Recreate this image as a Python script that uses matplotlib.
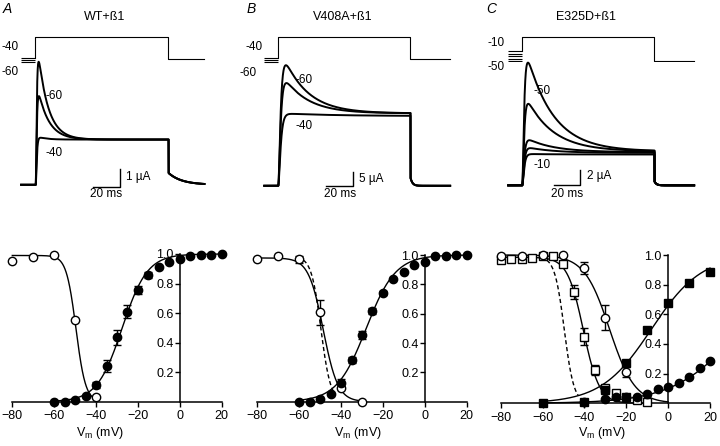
import numpy as np
import matplotlib
matplotlib.use("Agg")
import matplotlib.pyplot as plt

plt.rcParams["font.family"] = ["Liberation Sans", "DejaVu Sans"]

W, H = 720, 446

# ---- voltage protocols (mV) ----
PRE_AB = [-60, -50, -40]
PRE_C = [-50, -40, -30, -20, -10]
TEST_V = 50
RETURN_V = [-45, -45, -50]
STEP_MS = 100

# ---- current traces, one entry per prepulse (uA, ms) ----
A_PEAK = [6.8, 4.9, 2.6]
A_SS = [2.5, 2.5, 2.5]
A_TAU = [7.5, 8.0, 6.0]
A_TAIL = [0.65, 0.65, 0.65]

B_PEAK = [44.6, 38.0, 26.6]
B_SS = [26.8, 26.8, 25.8]
B_TAU = [18.0, 18.0, 40.0]
B_TAIL = [3.0, 3.0, 3.0]

C_PEAK = [15.5, 10.3, 5.7, 4.7, 3.95]
C_SS = [4.3, 4.3, 4.2, 4.1, 3.9]
C_TAU = [20.0, 20.0, 20.0, 20.0, 20.0]
C_TAIL = [0.5, 0.5, 0.5, 0.5, 0.5]

# ---- steady-state curves (normalized) ----
V_ACT = [-60, -55, -50, -45, -40, -35, -30, -25, -20, -15, -10, -5, 0, 5, 10, 15, 20]
A_ACT = [0.0, 0.0, 0.01, 0.04, 0.11, 0.24, 0.435, 0.61, 0.756, 0.858, 0.914, 0.948, 0.966, 0.986, 0.993, 0.993, 0.998]
A_ACT_ERR = [0, 0, 0, 0, 0.02, 0.04, 0.05, 0.045, 0.03, 0.02, 0, 0, 0, 0, 0, 0, 0]
A_INACT_V = [-80, -70, -60, -50, -40]
A_INACT = [0.955, 0.98, 0.99, 0.555, 0.03]

B_ACT = [0.0, 0.0, 0.016, 0.05, 0.13, 0.284, 0.455, 0.62, 0.743, 0.834, 0.886, 0.932, 0.955, 0.99, 0.99, 1.0, 1.0]
B_ACT_ERR = [0, 0, 0, 0, 0.025, 0.02, 0.025, 0.02, 0.015, 0, 0, 0, 0, 0, 0, 0, 0]
B_INACT_V = [-80, -70, -60, -50, -40, -30]
B_INACT = [0.97, 0.99, 0.97, 0.61, 0.09, 0.0]
B_INACT_ERR = [0, 0, 0.025, 0.085, 0, 0]

C_CIRC_V = [-80, -70, -60, -50, -40, -30, -20]
C_CIRC = [0.99, 0.99, 1.0, 1.0, 0.91, 0.577, 0.213]
C_CIRC_ERR = [0, 0, 0, 0, 0.04, 0.085, 0.035]
C_SQ_V = [-80, -75, -70, -65, -60, -55, -50, -45, -40, -35, -30, -25, -20, -15, -10]
C_SQ = [0.965, 0.97, 0.975, 0.98, 0.99, 0.99, 0.94, 0.75, 0.45, 0.225, 0.10, 0.072, 0.04, 0.022, 0.011]
C_SQ_ERR = [0, 0, 0, 0, 0, 0, 0, 0.05, 0.06, 0.035, 0, 0, 0, 0, 0]
C_FSQ_V = [-60, -40, -30, -20, -10, 0, 10, 20]
C_FSQ = [0.0, 0.01, 0.09, 0.27, 0.494, 0.674, 0.81, 0.883]
C_FCIRC_V = [-40, -30, -25, -20, -15, -10, -5, 0, 5, 10, 15, 20]
C_FCIRC = [0.01, 0.03, 0.04, 0.04, 0.045, 0.063, 0.096, 0.11, 0.14, 0.18, 0.24, 0.285]

# Boltzmann fit parameters: (V1/2, slope, max)
WT_ACT_FIT = (-27.5, 6.0, 1.0)
WT_INACT_FIT = (-49.6, 2.3, 0.99)
V408A_ACT_FIT = (-28.0, 7.0, 1.0)
V408A_INACT_FIT = (-48.5, 3.5, 0.98)
E325D_CIRC_FIT = (-28.0, 6.0, 1.0)
E325D_SQ_FIT = (-40.5, 3.8, 0.985)
E325D_FSQ_FIT = (-8.0, 12.0, 1.0)
E325D_FCIRC_FIT = (35.0, 16.0, 1.0)


def boltz_act(v, p):
    return p[2] / (1 + np.exp((p[0] - v) / p[1]))


def boltz_inact(v, p):
    return p[2] / (1 + np.exp((v - p[0]) / p[1]))


def current(t, peak, ss, tau_i, tau_a, tail, tau_tail):
    tt = np.clip(t, 0, None)
    act = (1 - np.exp(-tt / tau_a)) ** 2
    on = (t >= 0) & (t < STEP_MS)
    a = peak - ss
    if a > 0:
        for _ in range(8):
            m = (act * (ss + a * np.exp(-tt / tau_i)))[on].max()
            if m - ss <= 0:
                break
            a *= (peak - ss) / (m - ss)
    out = np.zeros_like(t)
    out[on] = (act * (ss + a * np.exp(-tt / tau_i)))[on]
    off = t >= STEP_MS
    out[off] = tail * np.exp(-(t[off] - STEP_MS) / tau_tail)
    return out


def add_axes_px(fig, xlim, ylim, xa, pxa, xb, pxb, ya, pya, yb, pyb):
    sx = (pxb - pxa) / (xb - xa)
    sy = (pyb - pya) / (yb - ya)
    left = pxa + (xlim[0] - xa) * sx
    right = pxa + (xlim[1] - xa) * sx
    bottom = pya + (ylim[0] - ya) * sy
    top = pya + (ylim[1] - ya) * sy
    return fig.add_axes([left / W, 1 - bottom / H, (right - left) / W, (bottom - top) / H])


def ftext(fig, x, y, s, **kw):
    kw.setdefault("fontsize", 8)
    kw.setdefault("va", "center")
    fig.text(x / W, 1 - y / H, s, **kw)


def draw_protocol(ax, pre, ret, t0, t1):
    ax.hlines(pre, t0, 0, color="black", lw=0.8)
    ax.plot([0, 0, STEP_MS, STEP_MS, t1], [max(pre), TEST_V, TEST_V, ret, ret],
            color="black", lw=0.8)
    ax.axis("off")


def draw_traces(ax, peaks, sss, taus, tails, tau_a, tau_tail, t0, t1):
    t = np.linspace(t0, t1, 3000)
    for pk, ss, ti, tl in zip(peaks, sss, taus, tails):
        ax.plot(t, current(t, pk, ss, ti, tau_a, tl, tau_tail), color="black", lw=1.4)
    ax.axis("off")


def scale_bar(ax, t_end, i0, dt, di):
    ax.plot([t_end - dt, t_end, t_end], [i0, i0, i0 + di], color="black", lw=1.0)


def setup_iv(ax):
    ax.set_xlim(-84, 24)
    ax.set_ylim(-0.03, 1.06)
    ax.spines["top"].set_visible(False)
    ax.spines["right"].set_visible(False)
    ax.spines["left"].set_position(("data", 0))
    ax.spines["left"].set_bounds(0, 1)
    ax.spines["bottom"].set_position(("data", 0))
    ax.spines["bottom"].set_bounds(-80, 20)
    for s in ("left", "bottom"):
        ax.spines[s].set_linewidth(1.1)
    ax.set_xticks(range(-80, 21, 20))
    ax.set_yticks([0.2, 0.4, 0.6, 0.8, 1.0])
    ax.set_yticklabels(["0.2", "0.4", "0.6", "0.8", "1.0"])
    ax.tick_params(direction="out", length=3.5, width=1.0, labelsize=9)
    ax.tick_params(axis="x", pad=2.5)
    ax.tick_params(axis="y", pad=1)
    ax.patch.set_visible(False)


def points(ax, v, y, err=None, marker="o", filled=True):
    v = np.asarray(v, float)
    y = np.asarray(y, float)
    if err is not None:
        err = np.asarray(err, float)
        nz = err > 0
        ax.errorbar(v[nz], y[nz], yerr=err[nz], fmt="none", ecolor="black",
                    elinewidth=1.0, capsize=3, capthick=1.0, zorder=3, clip_on=False)
    ax.plot(v, y, linestyle="none", marker=marker, ms=6,
            mfc="black" if filled else "white", mec="black", mew=1.0,
            zorder=4, clip_on=False)


def fit_line(ax, fn, p, v0, v1, **kw):
    v = np.linspace(v0, v1, 300)
    kw.setdefault("lw", 1.0)
    ax.plot(v, fn(v, p), color="black", zorder=2, **kw)


fig = plt.figure(figsize=(7.2, 4.46), dpi=100)

# ---------------- top row ----------------
# panel A
ax = add_axes_px(fig, (-12, 130), (-70, 60), 0, 29, 100, 171, 50, 38, -40, 57.3)
draw_protocol(ax, PRE_AB, RETURN_V[0], -10.6, 127)
ax = add_axes_px(fig, (-12, 130), (-0.6, 7.5), 0, 29, 100, 171, 0, 183, 1, 166)
draw_traces(ax, A_PEAK, A_SS, A_TAU, A_TAIL, 0.6, 10.0, -11, 127)
scale_bar(ax, 63.4, -0.12, 20, 1)

# panel B
ax = add_axes_px(fig, (-12, 132), (-70, 60), 0, 272, 100, 414, 50, 38, -40, 57.3)
draw_protocol(ax, PRE_AB, RETURN_V[1], -10.6, 130)
ax = add_axes_px(fig, (-12, 132), (-3, 48), 0, 272, 100, 414, 0, 184, 5, 171)
draw_traces(ax, B_PEAK, B_SS, B_TAU, B_TAIL, 1.4, 1.5, -10.6, 130)
scale_bar(ax, 56.3, 0, 20, 5)

# panel C
ax = add_axes_px(fig, (-12, 132), (-70, 60), 0, 516, 100, 658, 50, 37.7, -50, 58.3)
draw_protocol(ax, PRE_C, RETURN_V[2], -10.6, 130)
ax = add_axes_px(fig, (-12, 132), (-1, 17), 0, 516, 100, 658, 0, 184, 2, 169)
draw_traces(ax, C_PEAK, C_SS, C_TAU, C_TAIL, 1.1, 1.5, -10.6, 130)
scale_bar(ax, 43.7, 0, 20, 2)

# ---------------- bottom row ----------------
ax = add_axes_px(fig, (-84, 24), (-0.03, 1.06), -80, 12.3, 20, 221.7, 0, 401.7, 1, 254)
setup_iv(ax)
fit_line(ax, boltz_inact, WT_INACT_FIT, -80, -40)
fit_line(ax, boltz_act, WT_ACT_FIT, -60, 20)
points(ax, A_INACT_V, A_INACT, filled=False)
points(ax, V_ACT, A_ACT, A_ACT_ERR)

ax = add_axes_px(fig, (-84, 24), (-0.03, 1.06), -80, 257.3, 20, 466.7, 0, 401.7, 1, 255)
setup_iv(ax)
fit_line(ax, boltz_inact, WT_INACT_FIT, -58, -43, ls=(0, (3, 2)))
fit_line(ax, boltz_inact, V408A_INACT_FIT, -80, -30)
fit_line(ax, boltz_act, V408A_ACT_FIT, -60, 20)
points(ax, B_INACT_V, B_INACT, B_INACT_ERR, filled=False)
points(ax, V_ACT, B_ACT, B_ACT_ERR)

ax = add_axes_px(fig, (-84, 24), (-0.03, 1.06), -80, 500.7, 20, 710, 0, 403.3, 1, 255)
setup_iv(ax)
fit_line(ax, boltz_inact, WT_INACT_FIT, -58, -43, ls=(0, (3, 2)))
fit_line(ax, boltz_inact, E325D_CIRC_FIT, -80, 0)
fit_line(ax, boltz_inact, E325D_SQ_FIT, -80, -10)
fit_line(ax, boltz_act, E325D_FSQ_FIT, -60, 20)
fit_line(ax, boltz_act, E325D_FCIRC_FIT, -60, 20)
points(ax, C_SQ_V, C_SQ, C_SQ_ERR, marker="s", filled=False)
points(ax, C_CIRC_V, C_CIRC, C_CIRC_ERR, filled=False)
points(ax, C_FSQ_V, C_FSQ, marker="s")
points(ax, C_FCIRC_V, C_FCIRC)

# ---------------- text ----------------
for x, letter in [(7, "A"), (251, "B"), (491, "C")]:
    ftext(fig, x, 9, letter, fontsize=10, style="italic", ha="center")
for x, title in [(105, "WT+ß1"), (343, "V408A+ß1"), (586, "E325D+ß1")]:
    ftext(fig, x, 17, title, fontsize=9, ha="center")

labels = [
    (2, 47, "-40"), (1, 72, "-60"), (45, 96, "-60"), (45, 153, "-40"),
    (245, 47, "-40"), (240, 73, "-60"), (295, 80, "-60"), (295, 126, "-40"),
    (488, 43, "-10"), (488, 67, "-50"), (533, 91, "-50"), (533, 165, "-10"),
]
for x, y, s in labels:
    ftext(fig, x, y, s, fontsize=8.5, ha="left")

for x, y, s in [(126, 177, "1 µA"), (359, 179, "5 µA"), (587, 176, "2 µA")]:
    ftext(fig, x, y, s, fontsize=8.5, ha="left")
for x in (106, 340, 567):
    ftext(fig, x, 194, "20 ms", fontsize=8.5, ha="center")

for x in (100, 358, 602):
    ftext(fig, x, 433, r"V$_\mathregular{m}$ (mV)", fontsize=9, ha="center")

fig.savefig("out.png", dpi=100)
